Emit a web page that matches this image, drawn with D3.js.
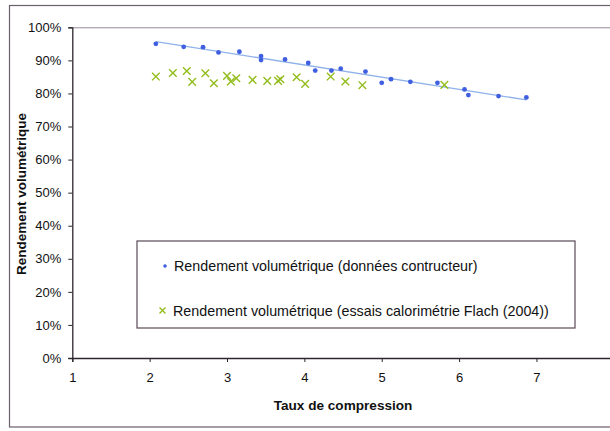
<!DOCTYPE html>
<html><head><meta charset="utf-8">
<script src="https://cdn.jsdelivr.net/npm/d3@7"></script>
<style>
body{margin:0;background:#fff;overflow:hidden}
text{font-family:"Liberation Sans",Arial,sans-serif}
</style>
</head><body><svg id="c" width="610" height="431"></svg>
<script>
// Data
const constructeurX = [2.08,2.44,2.69,2.89,3.16,3.44,3.44,3.75,4.05,4.14,4.35,4.47,4.79,5.00,5.12,5.37,5.72,6.07,6.12,6.51,6.87];
const constructeurY = [0.950,0.941,0.940,0.924,0.926,0.913,0.901,0.903,0.892,0.869,0.869,0.875,0.866,0.832,0.843,0.835,0.832,0.812,0.795,0.792,0.788];
const flachX = [2.08,2.30,2.48,2.55,2.72,2.83,3.00,3.05,3.12,3.33,3.52,3.66,3.69,3.90,4.01,4.34,4.53,4.75,5.81];
const flachY = [0.851,0.862,0.868,0.835,0.861,0.831,0.853,0.836,0.846,0.841,0.838,0.838,0.843,0.849,0.829,0.851,0.836,0.825,0.826];
const xTicks = [1,2,3,4,5,6,7];
const yTicks = [0,0.1,0.2,0.3,0.4,0.5,0.6,0.7,0.8,0.9,1.0];
const seriesNames = ["Rendement volumétrique (données contructeur)",
                     "Rendement volumétrique (essais calorimétrie Flach (2004))"];
const xTitle = "Taux de compression";
const yTitle = "Rendement volumétrique";

const svg = d3.select("#c");
const x = d3.scaleLinear().domain([1,8]).range([72.3,613.8]);
const y = d3.scaleLinear().domain([0,1]).range([358,27.3]);
const blue = "#3f5fe0", green = "#93bd1c", trendCol = "#8fb2e8";

// outer chart border
svg.append("rect").attr("x",9.5).attr("y",5.5).attr("width",700).attr("height",421.5)
  .attr("fill","none").attr("stroke","#6a5f6a").attr("stroke-width",1.2);

// plot top border
svg.append("line").attr("x1",x(1)).attr("x2",620).attr("y1",y(1)+0.5).attr("y2",y(1)+0.5)
  .attr("stroke","#9a8a98").attr("stroke-width",1);

// axes
const yAxis = d3.axisLeft(y).tickValues(yTicks).tickFormat(d3.format(".0%")).tickSize(4).tickPadding(7);
const gy = svg.append("g").attr("transform",`translate(${x(1)},0)`).call(yAxis);
const xAxis = d3.axisBottom(x).tickValues(xTicks).tickFormat(d3.format("d")).tickSize(4).tickPadding(11);
const gx = svg.append("g").attr("transform",`translate(0,${y(0)})`).call(xAxis);
[gx,gy].forEach(g=>{
  g.select(".domain").attr("stroke","#2e262e").attr("stroke-width",1.3);
  g.selectAll(".tick line").attr("stroke","#2e262e");
  g.selectAll(".tick text").attr("fill","#111").style("font-size","13px")
   .style("font-family","'Liberation Sans',Arial,sans-serif");
});

// trend line (least squares from constructeur data)
const mx = d3.mean(constructeurX), my = d3.mean(constructeurY);
let sxy=0,sxx=0;
constructeurX.forEach((v,i)=>{sxy+=(v-mx)*(constructeurY[i]-my);sxx+=(v-mx)*(v-mx);});
const slope = sxy/sxx, icpt = my - slope*mx;
const [x0,x1] = d3.extent(constructeurX);
svg.append("line").attr("x1",x(x0)).attr("y1",y(icpt+slope*x0))
  .attr("x2",x(x1)).attr("y2",y(icpt+slope*x1))
  .attr("stroke",trendCol).attr("stroke-width",1.3);

// blue dots
svg.append("g").selectAll("circle").data(constructeurX.map((v,i)=>[v,constructeurY[i]]))
  .join("circle").attr("cx",d=>x(d[0])).attr("cy",d=>y(d[1])).attr("r",2.4).attr("fill",blue);

// green crosses
const cross = (g,cx,cy,s)=>g.append("path")
  .attr("d",`M${cx-s},${cy-s}L${cx+s},${cy+s}M${cx-s},${cy+s}L${cx+s},${cy-s}`)
  .attr("stroke",green).attr("stroke-width",1.4).attr("fill","none");
const gc = svg.append("g");
flachX.forEach((v,i)=>cross(gc,x(v),y(flachY[i]),3.8));

// legend
const lg = svg.append("g");
lg.append("rect").attr("x",137).attr("y",241).attr("width",438).attr("height",87)
  .attr("fill","#fff").attr("stroke","#5a4a58").attr("stroke-width",1.2);
lg.append("circle").attr("cx",165).attr("cy",266).attr("r",1.8).attr("fill",blue);
cross(lg,162.5,310.5,3);
lg.selectAll("text.lab").data(seriesNames).join("text").attr("class","lab")
  .attr("x",(d,i)=>[174,173][i]).attr("y",(d,i)=>[271,315.5][i]).style("font-size","14.3px").attr("fill","#111")
  .text(d=>d);

// axis titles
svg.append("text").attr("x",x(1)+ (613.8-72.3)/2).attr("y",410).attr("text-anchor","middle")
  .style("font-size","13.6px").style("font-weight","bold").attr("fill","#111").text(xTitle);
svg.append("text").attr("transform","translate(26,194) rotate(-90)").attr("text-anchor","middle")
  .style("font-size","13.5px").style("font-weight","bold").attr("fill","#111").text(yTitle);
</script></body></html>
